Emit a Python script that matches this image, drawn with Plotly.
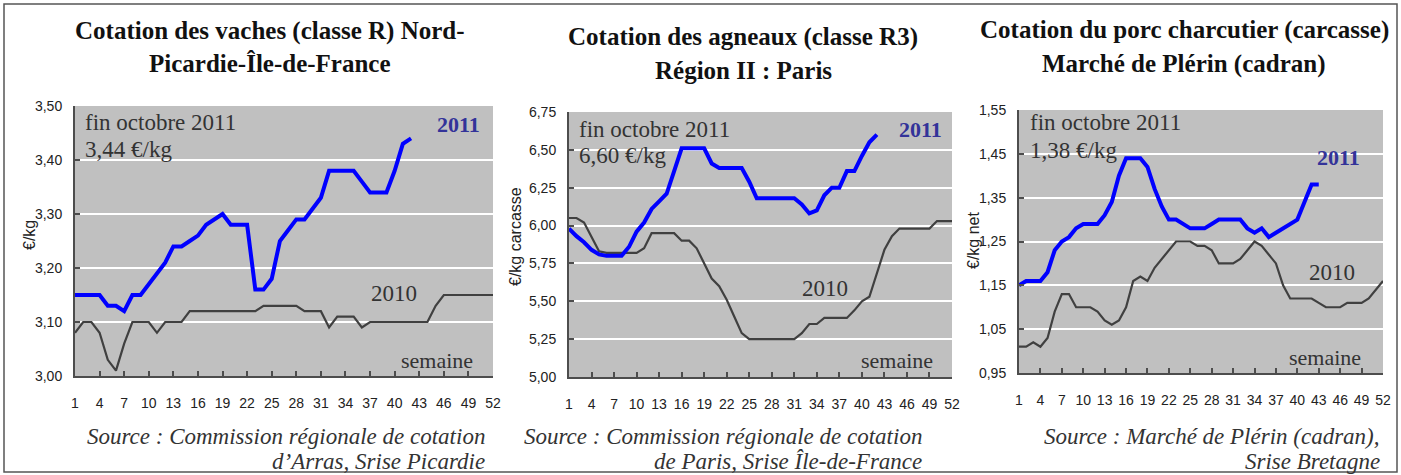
import plotly.graph_objects as go

W, H = 1401, 475

weeks = list(range(1, 53))
week_ticks = list(range(1, 53, 3))

# Vaches classe R, Nord-Picardie-Ile-de-France (EUR/kg)
vaches_2010 = [3.08, 3.10, 3.10, 3.08, 3.03, 3.01, 3.06, 3.10, 3.10, 3.10,
               3.08, 3.10, 3.10, 3.10, 3.12, 3.12, 3.12, 3.12, 3.12, 3.12,
               3.12, 3.12, 3.12, 3.13, 3.13, 3.13, 3.13, 3.13, 3.12, 3.12,
               3.12, 3.09, 3.11, 3.11, 3.11, 3.09, 3.10, 3.10, 3.10, 3.10,
               3.10, 3.10, 3.10, 3.10, 3.13, 3.15, 3.15, 3.15, 3.15, 3.15,
               3.15, 3.15]
vaches_2011 = [3.15, 3.15, 3.15, 3.15, 3.13, 3.13, 3.12, 3.15, 3.15, 3.17,
               3.19, 3.21, 3.24, 3.24, 3.25, 3.26, 3.28, 3.29, 3.30, 3.28,
               3.28, 3.28, 3.16, 3.16, 3.18, 3.25, 3.27, 3.29, 3.29, 3.31,
               3.33, 3.38, 3.38, 3.38, 3.38, 3.36, 3.34, 3.34, 3.34, 3.38,
               3.43, 3.44]

# Agneaux classe R3, Region II Paris (EUR/kg carcasse)
agneaux_2010 = [6.05, 6.05, 6.02, 5.93, 5.83, 5.82, 5.82, 5.82, 5.82, 5.82,
                5.85, 5.95, 5.95, 5.95, 5.95, 5.90, 5.90, 5.85, 5.75, 5.65,
                5.60, 5.51, 5.40, 5.29, 5.25, 5.25, 5.25, 5.25, 5.25, 5.25,
                5.25, 5.29, 5.35, 5.35, 5.39, 5.39, 5.39, 5.39, 5.44, 5.50,
                5.53, 5.68, 5.84, 5.93, 5.98, 5.98, 5.98, 5.98, 5.98, 6.03,
                6.03, 6.03]
agneaux_2011 = [5.98, 5.93, 5.89, 5.84, 5.81, 5.80, 5.80, 5.80, 5.86, 5.96,
                6.02, 6.11, 6.16, 6.21, 6.36, 6.51, 6.51, 6.51, 6.51, 6.41,
                6.38, 6.38, 6.38, 6.38, 6.29, 6.18, 6.18, 6.18, 6.18, 6.18,
                6.18, 6.14, 6.08, 6.10, 6.20, 6.25, 6.25, 6.36, 6.36, 6.46,
                6.55, 6.60]

# Porc charcutier, marche de Plerin (EUR/kg net)
porc_2010 = [1.01, 1.01, 1.02, 1.01, 1.03, 1.09, 1.13, 1.13, 1.10, 1.10,
             1.10, 1.09, 1.07, 1.06, 1.07, 1.10, 1.16, 1.17, 1.16, 1.19,
             1.21, 1.23, 1.25, 1.25, 1.25, 1.24, 1.24, 1.23, 1.20, 1.20,
             1.20, 1.21, 1.23, 1.25, 1.24, 1.22, 1.20, 1.15, 1.12, 1.12,
             1.12, 1.12, 1.11, 1.10, 1.10, 1.10, 1.11, 1.11, 1.11, 1.12,
             1.14, 1.16]
porc_2011 = [1.15, 1.16, 1.16, 1.16, 1.18, 1.23, 1.25, 1.26, 1.28, 1.29,
             1.29, 1.29, 1.31, 1.34, 1.40, 1.44, 1.44, 1.44, 1.42, 1.37,
             1.33, 1.30, 1.30, 1.29, 1.28, 1.28, 1.28, 1.29, 1.30, 1.30,
             1.30, 1.30, 1.28, 1.27, 1.28, 1.26, 1.27, 1.28, 1.29, 1.30,
             1.34, 1.38, 1.38]

titles = [
    ["Cotation des vaches (classe R) Nord-", "Picardie-Île-de-France"],
    ["Cotation des agneaux (classe R3)", "Région II : Paris"],
    ["Cotation du porc charcutier (carcasse)", "Marché de Plérin (cadran)"],
]
y_titles = ["€/kg", "€/kg carcasse", "€/kg net"]
last_values = ["3,44 €/kg", "6,60 €/kg", "1,38 €/kg"]
sources = [
    ["Source : Commission régionale de cotation", "d’Arras, Srise Picardie"],
    ["Source : Commission régionale de cotation", "de Paris, Srise Île-de-France"],
    ["Source : Marché de Plérin (cadran),", "Srise Bretagne"],
]

BLUE = "#0000ff"
GREY_LINE = "#404040"
TEXT = "#333333"
LABEL_BLUE = "#333399"
SERIF = "Liberation Serif"
SANS = "Liberation Sans"


def px(x):
    return x / W


def py(y):
    return 1 - y / H


# pixel boxes of the three plot areas: left, right, top, bottom
panels = [
    dict(l=75, r=493, t=106, b=376, yr=[3.0, 3.5], dt=0.1, t0=3.0),
    dict(l=569, r=952, t=112, b=377, yr=[5.0, 6.75], dt=0.25, t0=5.0),
    dict(l=1019, r=1383, t=110, b=373, yr=[0.95, 1.55], dt=0.1, t0=0.95),
]

series = [
    (vaches_2010, vaches_2011),
    (agneaux_2010, agneaux_2011),
    (porc_2010, porc_2011),
]

fig = go.Figure()
for i, (s10, s11) in enumerate(series):
    sfx = "" if i == 0 else str(i + 1)
    fig.add_trace(go.Scatter(
        x=weeks[:len(s10)], y=s10, mode="lines",
        line=dict(color=GREY_LINE, width=2.2),
        xaxis="x" + sfx, yaxis="y" + sfx,
        showlegend=False, hoverinfo="skip",
    ))
    fig.add_trace(go.Scatter(
        x=weeks[:len(s11)], y=s11, mode="lines",
        line=dict(color=BLUE, width=4),
        xaxis="x" + sfx, yaxis="y" + sfx,
        showlegend=False, hoverinfo="skip",
    ))

layout_axes = {}
for i, p in enumerate(panels):
    sfx = "" if i == 0 else str(i + 1)
    layout_axes["xaxis" + sfx] = dict(
        domain=[px(p["l"]), px(p["r"])],
        anchor="y" + sfx,
        range=[1, 52],
        tickmode="array",
        tickvals=week_ticks,
        ticktext=[str(w) for w in week_ticks],
        ticks="inside", ticklen=5, tickwidth=1.5, tickcolor="#4d4d4d",
        showline=True, linecolor="#4d4d4d", linewidth=2,
        showgrid=False, zeroline=False,
        ticklabelstandoff=13,
        tickfont=dict(family=SANS, size=14, color="#222222"),
    )
    layout_axes["yaxis" + sfx] = dict(
        domain=[py(p["b"]), py(p["t"])],
        anchor="x" + sfx,
        range=p["yr"],
        tick0=p["t0"], dtick=p["dt"],
        tickformat=".2f",
        ticks="inside", ticklen=5, tickwidth=1.5, tickcolor="#4d4d4d",
        showline=True, linecolor="#4d4d4d", linewidth=2,
        showgrid=True, gridcolor="#ffffff", gridwidth=1.5,
        zeroline=False,
        ticklabelstandoff=8,
        tickfont=dict(family=SANS, size=14, color="#222222"),
    )

ann = []


def add_text(text, x, y, size, family=SERIF, color=TEXT, xanchor="center",
             bold=False, italic=False, angle=0):
    ann.append(dict(
        text=f"<b>{text}</b>" if bold else (f"<i>{text}</i>" if italic else text),
        x=px(x), y=py(y), xref="paper", yref="paper",
        xanchor=xanchor, yanchor="middle", showarrow=False,
        textangle=angle,
        font=dict(family=family, size=size, color=color),
    ))


# titles
title_pos = [(270, 31, 63), (743, 37, 70), (1184, 30, 64)]
for (l1, l2), (cx, y1, y2) in zip(titles, title_pos):
    add_text(l1, cx, y1, 25, color="#111111", bold=True)
    add_text(l2, cx, y2, 25, color="#111111", bold=True)

# y axis titles
for t, (x, y) in zip(y_titles, [(29, 235), (516, 237), (973, 240)]):
    add_text(t, x, y, 16, family=SANS, color="#222222", angle=-90)

# in-plot notes
note_pos = [(83, 123, 149), (577, 130, 155), (1028, 123, 150)]
for v, (x, y1, y2) in zip(last_values, note_pos):
    add_text("fin octobre 2011", x, y1, 23, xanchor="left")
    add_text(v, x, y2, 23, xanchor="left")

for x, y in [(458, 124), (920, 129), (1338, 158)]:
    add_text("2011", x, y, 22, color=LABEL_BLUE, bold=True)
for x, y in [(394, 293), (825, 288), (1332, 272)]:
    add_text("2010", x, y, 23)
for x, y in [(437, 360), (897, 360), (1325, 357)]:
    add_text("semaine", x, y, 22)

# sources
for (l1, l2), xr in zip(sources, [487, 924, 1382]):
    add_text(l1, xr, 436, 23, xanchor="right", italic=True)
    add_text(l2, xr, 461, 23, xanchor="right", italic=True)

fig.update_layout(
    width=W, height=H,
    margin=dict(l=0, r=0, t=0, b=0),
    template="none",
    paper_bgcolor="#ffffff",
    plot_bgcolor="#c0c0c0",
    separators=", ",
    font=dict(family=SANS, color="#222222"),
    annotations=ann,
    shapes=[dict(
        type="rect", xref="paper", yref="paper",
        x0=px(4), x1=px(1397), y0=py(472), y1=py(4),
        line=dict(color="#555555", width=1.5),
    )],
    **layout_axes,
)

# the page body has a default 8px margin; drop it so the figure sits at 0,0
fig.write_html(
    "out.html",
    config={"displayModeBar": False},
    post_script="document.body.style.margin='0';document.body.style.overflow='hidden';",
)
